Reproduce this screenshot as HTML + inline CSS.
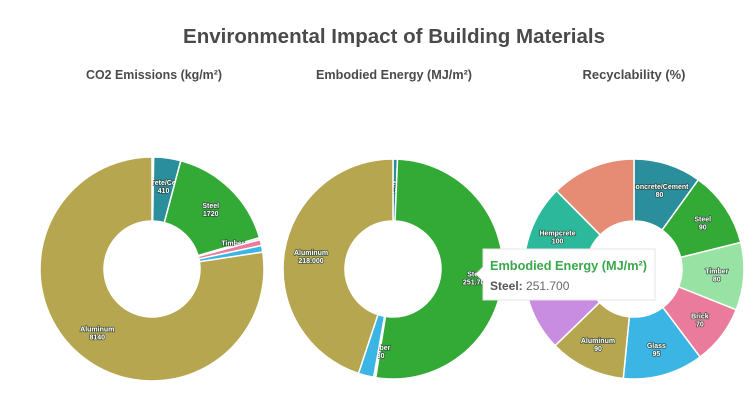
<!DOCTYPE html>
<html><head><meta charset="utf-8"><style>
html,body{margin:0;padding:0;background:#fff;}
svg{display:block;font-family:"Liberation Sans",sans-serif;}
.lbl{font-size:7px;font-weight:bold;fill:#fff;stroke:rgba(40,60,50,0.75);stroke-width:1.6px;paint-order:stroke;stroke-linejoin:round;}
</style></head><body>
<svg id="chart" width="753" height="408" viewBox="0 0 753 408">
<text x="394" y="43" text-anchor="middle" font-size="20" font-weight="bold" fill="#4a4a4a" textLength="422" lengthAdjust="spacingAndGlyphs">Environmental Impact of Building Materials</text>
<text x="154" y="79" text-anchor="middle" font-size="12.5" font-weight="bold" fill="#4a4a4a" textLength="136" lengthAdjust="spacingAndGlyphs">CO2 Emissions (kg/m²)</text>
<text x="394" y="79" text-anchor="middle" font-size="12.5" font-weight="bold" fill="#4a4a4a" textLength="156" lengthAdjust="spacingAndGlyphs">Embodied Energy (MJ/m²)</text>
<text x="634" y="79" text-anchor="middle" font-size="12.5" font-weight="bold" fill="#4a4a4a" textLength="103" lengthAdjust="spacingAndGlyphs">Recyclability (%)</text>
<g id="pies"></g>
<g>
<path d="M483,249 H655 V300 H483 V281 L476,274 L483,267 Z" fill="#fff" stroke="#e4e4e4" stroke-width="1"/>
<text x="490" y="270" font-size="13" font-weight="bold" fill="#3aa84a" textLength="157" lengthAdjust="spacingAndGlyphs">Embodied Energy (MJ/m²)</text>
<text x="490" y="290" font-size="12" fill="#666"><tspan font-weight="bold" fill="#555">Steel:</tspan> 251.700</text>
</g>
</svg>
<script>
const co2Labels = ["Hempcrete","Concrete/Cement","Steel","Timber","Brick","Glass","Aluminum"];
const co2Values = [25,410,1720,30,90,100,8140];
const co2Shown = [false,true,true,true,false,false,true];
const co2Text = ["","410","1720","30","","","8140"];
const energyLabels = ["Concrete/Cement","Steel","Brick","Timber","Glass","Aluminum"];
const energyValues = [3180,251700,800,630,11000,218000];
const energyShown = [true,true,false,true,false,true];
const energyText = ["3180","251.700","","630","","218.000"];
const recLabels = ["Concrete/Cement","Steel","Timber","Brick","Glass","Aluminum","Bamboo","Hempcrete","Recycled Plastic"];
const recValues = [80,90,80,70,95,90,100,100,100];
const recShown = [true,true,true,true,true,true,true,true,false];
const recText = ["80","90","80","70","95","90","100","100","100"];
const colorMap = {"Concrete/Cement":"#2b8e9c","Steel":"#33a936","Timber":"#98e3a3","Brick":"#ea7b9c","Glass":"#3bb5e3","Aluminum":"#b6a650","Bamboo":"#c88de0","Hempcrete":"#2cb99b","Recycled Plastic":"#e68b74"};
const ns="http://www.w3.org/2000/svg";
const g=document.getElementById('pies');
function pt(cx,cy,r,a){return [cx+r*Math.sin(a),cy-r*Math.cos(a)];}
function donut(name,cx,cy,ro,ri,labels,values,shown,texts,hideLabel){
  const total=values.reduce((a,b)=>a+b,0);
  let a0=0;
  const grp=document.createElementNS(ns,'g');
  
  
  g.appendChild(grp);
  values.forEach((v,i)=>{
    const a1=a0+v/total*Math.PI*2;
    const [x0,y0]=pt(cx,cy,ro,a0),[x1,y1]=pt(cx,cy,ro,a1),[x2,y2]=pt(cx,cy,ri,a1),[x3,y3]=pt(cx,cy,ri,a0);
    const lg=(a1-a0)>Math.PI?1:0;
    const p=document.createElementNS(ns,'path');
    p.setAttribute('d',`M${x0},${y0}A${ro},${ro} 0 ${lg} 1 ${x1},${y1}L${x2},${y2}A${ri},${ri} 0 ${lg} 0 ${x3},${y3}Z`);
    p.setAttribute('fill',colorMap[labels[i]]||'#ccc');
    p.setAttribute('stroke','#fff');
    p.setAttribute('stroke-width','1.5');
    
    
    grp.appendChild(p);
    const am=(a0+a1)/2;
    if(shown[i] && !(hideLabel && hideLabel(i))){
      const [lx,ly]=pt(cx,cy,(ro+ri)/2+4,am);
      const t=document.createElementNS(ns,'text');
      t.setAttribute('class','lbl');
      t.setAttribute('text-anchor','middle');
      t.setAttribute('x',lx);t.setAttribute('y',ly-1);
      
      
      const s1=document.createElementNS(ns,'tspan');s1.setAttribute('x',lx);s1.textContent=labels[i];
      const s2=document.createElementNS(ns,'tspan');s2.setAttribute('x',lx);s2.setAttribute('dy','8');s2.textContent=texts[i];
      t.appendChild(s1);t.appendChild(s2);grp.appendChild(t);
    }
    a0=a1;
  });
}
donut('co2-donut',152,269,112,48,co2Labels,co2Values,co2Shown,co2Text);
donut('energy-donut',393,269,110,48,energyLabels,energyValues,energyShown,energyText);
donut('recyclability-donut',634,269,110,48,recLabels,recValues,recShown,recText,i=>recLabels[i]==="Bamboo");
</script>
</body></html>
